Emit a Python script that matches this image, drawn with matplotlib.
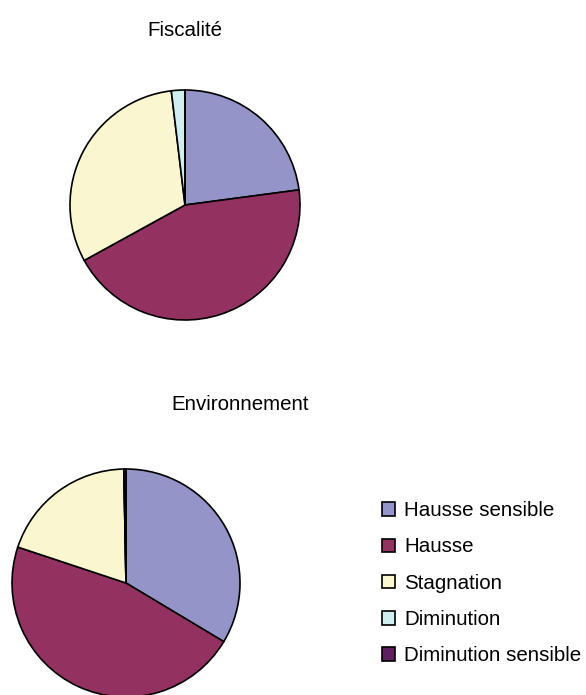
import matplotlib.pyplot as plt

plt.rcParams['font.family'] = ['Liberation Sans', 'DejaVu Sans']

# Catégories et valeurs (%)
categories = ['Hausse sensible', 'Hausse', 'Stagnation', 'Diminution', 'Diminution sensible']
fiscalite = [22.9, 44.1, 31.1, 1.9, 0.0]
environnement = [33.6, 46.5, 19.6, 0.0, 0.3]
couleurs = ['#9494C8', '#933260', '#FAF7D0', '#CFEEF0', '#5E1F5E']

fig = plt.figure(figsize=(5.86, 6.95), dpi=100)

# Camembert du haut : Fiscalité
ax1 = fig.add_axes([70 / 586, 1 - 320 / 695, 230 / 586, 230 / 695])
ax1.pie(fiscalite, colors=couleurs, startangle=90, counterclock=False,
        wedgeprops={'edgecolor': 'black', 'linewidth': 1.2})
ax1.set_xlim(-1, 1)
ax1.set_ylim(-1, 1)
fig.text(185 / 586, 1 - 30 / 695, 'Fiscalité', ha='center', va='center', fontsize=14.8)

# Camembert du bas : Environnement
ax2 = fig.add_axes([12 / 586, 1 - 697 / 695, 228 / 586, 228 / 695])
parts, _ = ax2.pie(environnement, colors=couleurs, startangle=90, counterclock=False,
                   wedgeprops={'edgecolor': 'black', 'linewidth': 1.2})
ax2.set_xlim(-1, 1)
ax2.set_ylim(-1, 1)
fig.text(240 / 586, 1 - 404 / 695, 'Environnement', ha='center', va='center', fontsize=14.8)

# Légende
fig.legend(parts, categories, loc='upper left', bbox_to_anchor=(374 / 586, 1 - 493 / 695),
           frameon=False, fontsize=14.8, handlelength=0.63, handleheight=0.63,
           handletextpad=0.43, labelspacing=0.84, borderaxespad=0)

fig.savefig('out.png', dpi=100)
